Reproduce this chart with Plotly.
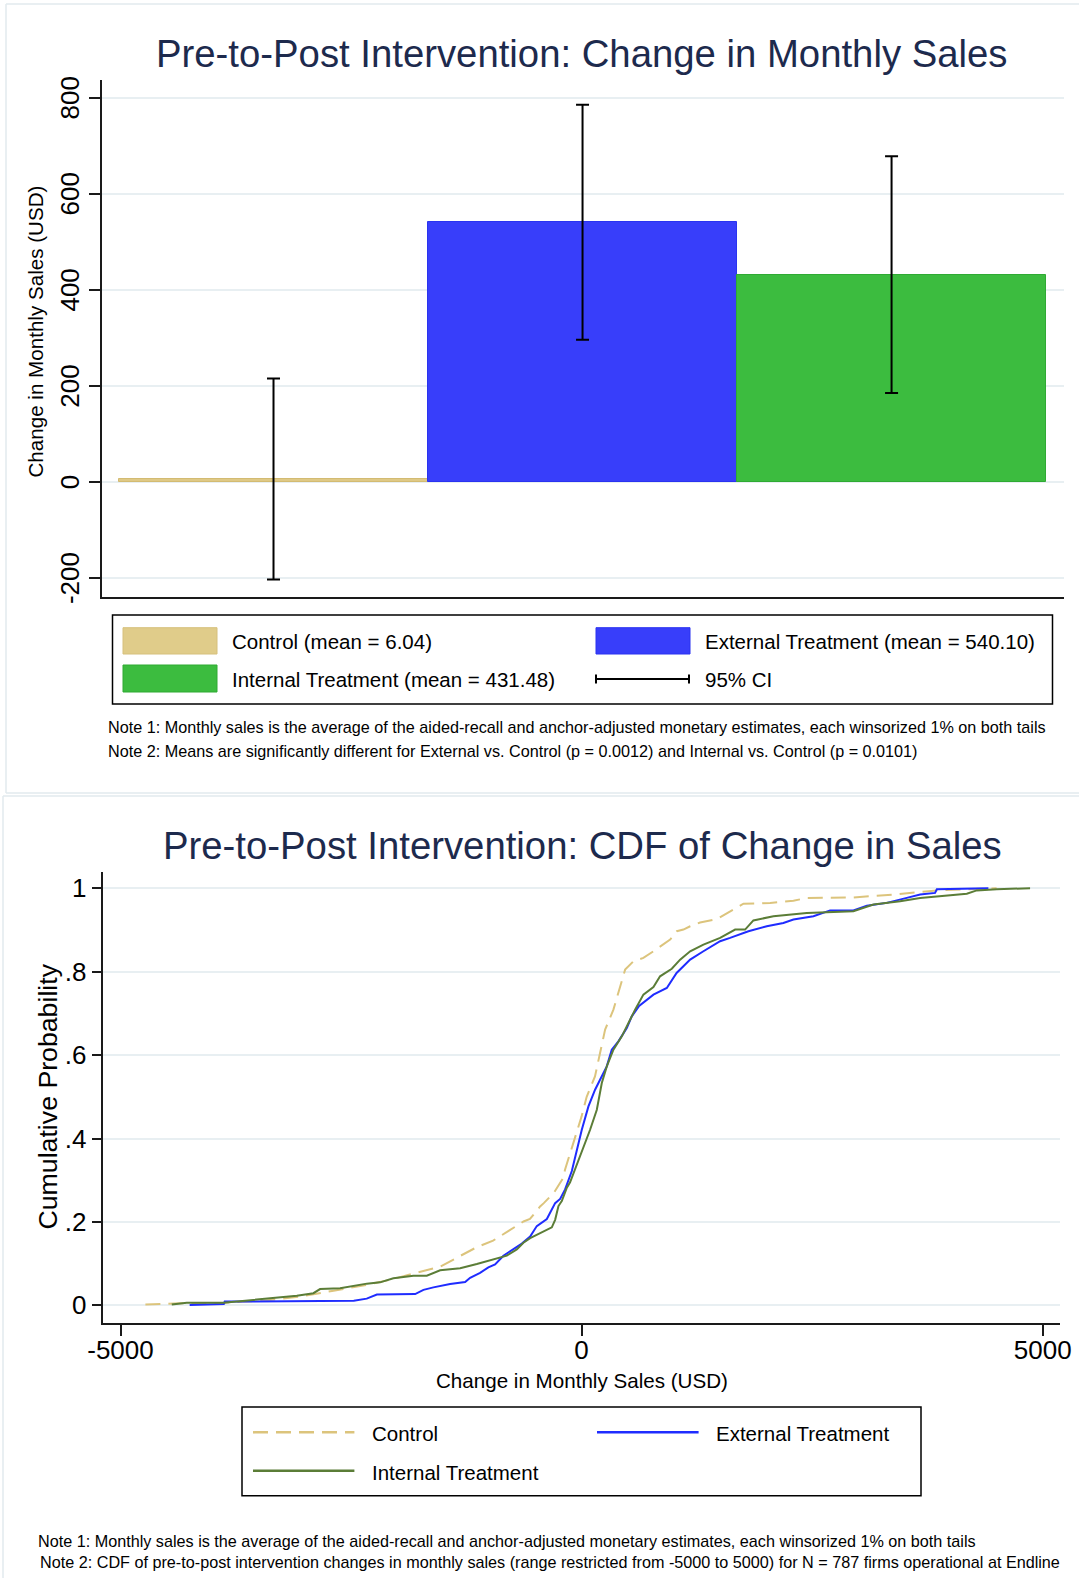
import plotly.graph_objects as go

W, H = 1079, 1578
FONT = "Liberation Sans, Arial, Helvetica, sans-serif"

# ---------------- Bar panel: mean change in monthly sales ----------------
groups = ["Control", "External Treatment", "Internal Treatment"]
means = [6.04, 540.10, 431.48]
ci_low = [-203, 296, 185]
ci_high = [215, 785, 678]
bar_yticks = [-200, 0, 200, 400, 600, 800]
bar_yticklabels = ["-200", "0", "200", "400", "600", "800"]

# ---------------- CDF panel: empirical CDFs by arm ----------------
control_x = [-4730, -4350, -3880, -3450, -3050, -2840, -2690, -2330, -2080, -1790,
             -1530, -1320, -1140, -960, -775, -630, -560, -450, -410, -300,
             -200, -180, -90, 0, 55, 145, 200, 255, 345, 417,
             472, 562, 670, 779, 887, 960, 1032, 1104, 1177, 1285,
             1466, 1610, 1755, 2044, 2297, 2442, 2947, 3381, 3598, 3852,
             4394, 4500]
control_y = [0.002, 0.005, 0.006, 0.011, 0.021, 0.030, 0.035, 0.049, 0.061, 0.078,
             0.093, 0.118, 0.139, 0.155, 0.181, 0.201, 0.207, 0.237, 0.245, 0.270,
             0.305, 0.325, 0.389, 0.453, 0.500, 0.549, 0.605, 0.661, 0.709, 0.765,
             0.805, 0.825, 0.833, 0.849, 0.865, 0.877, 0.897, 0.901, 0.909, 0.918,
             0.926, 0.945, 0.963, 0.965, 0.970, 0.977, 0.978, 0.985, 0.990, 0.995,
             0.999, 1.0]

external_x = [-4250, -3880, -3870, -3670, -2470, -2330, -2220, -1805, -1715, -1607,
              -1426, -1263, -1209, -1101, -1011, -938, -848, -740, -648, -558,
              -486, -377, -287, -233, -179, -106, -52, 2, 74, 146,
              200, 273, 327, 399, 490, 544, 620, 779, 924, 960,
              1030, 1104, 1177, 1321, 1502, 1610, 1809, 2008, 2188, 2297,
              2514, 2695, 2947, 3093, 3309, 3526, 3671, 3833, 3852, 4411]
external_y = [0.001, 0.003, 0.009, 0.009, 0.011, 0.016, 0.026, 0.027, 0.037, 0.043,
              0.051, 0.056, 0.066, 0.078, 0.091, 0.098, 0.119, 0.134, 0.148, 0.165,
              0.190, 0.207, 0.245, 0.255, 0.278, 0.322, 0.373, 0.421, 0.477, 0.517,
              0.541, 0.573, 0.613, 0.633, 0.665, 0.693, 0.717, 0.745, 0.761, 0.773,
              0.797, 0.813, 0.829, 0.849, 0.873, 0.881, 0.897, 0.909, 0.917, 0.925,
              0.933, 0.947, 0.947, 0.958, 0.965, 0.977, 0.985, 0.989, 0.998, 1.0]

internal_x = [-4444, -4281, -3884, -3667, -3486, -3269, -3088, -2908, -2836, -2619,
              -2474, -2329, -2185, -2041, -1824, -1679, -1534, -1317, -1136, -956,
              -811, -703, -631, -558, -450, -323, -287, -251, -215, -160,
              -125, -52, 20, 92, 165, 219, 273, 345, 436, 508,
              580, 670, 779, 851, 978, 1068, 1177, 1321, 1502, 1665,
              1773, 1863, 2080, 2442, 2947, 3164, 3454, 3671, 3888, 4177,
              4285, 4502, 4863]
internal_y = [0.002, 0.006, 0.006, 0.011, 0.015, 0.020, 0.023, 0.029, 0.039, 0.041,
              0.047, 0.052, 0.055, 0.065, 0.071, 0.071, 0.084, 0.089, 0.099, 0.111,
              0.119, 0.134, 0.150, 0.161, 0.173, 0.187, 0.205, 0.238, 0.250, 0.282,
              0.295, 0.336, 0.381, 0.421, 0.469, 0.533, 0.573, 0.613, 0.645, 0.677,
              0.709, 0.745, 0.763, 0.789, 0.807, 0.829, 0.849, 0.865, 0.881, 0.901,
              0.901, 0.923, 0.933, 0.941, 0.945, 0.961, 0.969, 0.977, 0.982, 0.987,
              0.995, 0.998, 1.0]
cdf_xticks = [-5000, 0, 5000]
cdf_xticklabels = ["-5000", "0", "5000"]
cdf_yticks = [0, 0.2, 0.4, 0.6, 0.8, 1]
cdf_yticklabels = ["0", ".2", ".4", ".6", ".8", "1"]

# ---------------- styling ----------------
TAN, TAN_EDGE = "#dfc986", "#d3bb72"
BLUE, BLUE_EDGE = "#383efa", "#2a33f0"
GREEN, GREEN_EDGE = "#3cbc3f", "#2faa33"
CDF_TAN, CDF_BLUE, CDF_GREEN = "#dcc47c", "#1f2cff", "#5b7d37"
TITLE_COL = "#1d2a4d"
GRID = "#e8eff2"
AXIS = "#1a1a1a"
FRAME = "#e2eaee"


def px(x):
    return x / W


def py(y):
    return 1 - y / H


fig = go.Figure()

fig.add_trace(go.Bar(
    x=groups, y=means, width=1,
    marker=dict(color=[TAN, BLUE, GREEN],
                line=dict(color=[TAN_EDGE, BLUE_EDGE, GREEN_EDGE], width=1)),
    error_y=dict(type="data", symmetric=False,
                 array=[h - m for h, m in zip(ci_high, means)],
                 arrayminus=[m - l for m, l in zip(means, ci_low)],
                 color="black", thickness=2, width=6.5),
    showlegend=False, xaxis="x", yaxis="y",
))

for xs, ys, col, dash in [(control_x, control_y, CDF_TAN, "15px,8px"),
                          (external_x, external_y, CDF_BLUE, "solid"),
                          (internal_x, internal_y, CDF_GREEN, "solid")]:
    fig.add_trace(go.Scatter(
        x=xs, y=ys, mode="lines",
        line=dict(color=col, width=2, dash=dash),
        showlegend=False, xaxis="x2", yaxis="y2",
    ))

tick_font = dict(family=FONT, size=26, color="black")

fig.update_layout(
    template="none",
    width=W, height=H, autosize=False,
    margin=dict(l=0, r=0, t=0, b=0, pad=0),
    paper_bgcolor="white", plot_bgcolor="white",
    font=dict(family=FONT, color="black"),
    bargap=0,
    xaxis=dict(domain=[px(102), px(1064)], range=[-0.555, 2.558],
               type="category", showticklabels=False, ticks="",
               showline=True, linecolor=AXIS, linewidth=1.5, automargin=False,
               showgrid=False, zeroline=False, fixedrange=True),
    yaxis=dict(domain=[py(597), py(80)], range=[-239.6, 836.6],
               tickvals=bar_yticks, ticktext=bar_yticklabels, tickangle=-90,
               tickfont=tick_font, ticks="outside", ticklen=11, tickwidth=1.5,
               tickcolor=AXIS, ticklabelstandoff=0, ticklabelshift=4,
               automargin=False,
               showline=True, linecolor=AXIS, linewidth=1.5,
               showgrid=True, gridcolor=GRID, gridwidth=1.5,
               zeroline=False, fixedrange=True),
    xaxis2=dict(domain=[px(103.3), px(1060)], range=[-5186.5, 5187.5],
                anchor="y2", tickvals=cdf_xticks, ticktext=cdf_xticklabels,
                tickfont=tick_font, ticks="outside", ticklen=11.5, tickwidth=1.5,
                tickcolor=AXIS, ticklabelstandoff=-8, automargin=False,
                showline=True, linecolor=AXIS, linewidth=1.5,
                showgrid=False, zeroline=False, fixedrange=True),
    yaxis2=dict(domain=[py(1322.7), py(871.7)], range=[-0.0417, 1.0398],
                anchor="x2", tickvals=cdf_yticks, ticktext=cdf_yticklabels,
                tickfont=tick_font, ticks="outside", ticklen=10, tickwidth=1.5,
                tickcolor=AXIS, ticklabelstandoff=0, automargin=False,
                showline=True, linecolor=AXIS, linewidth=1.5,
                showgrid=True, gridcolor=GRID, gridwidth=1.5,
                zeroline=False, fixedrange=True),
)

shapes = []
ann = []

# panel frames
for x0, y0, x1, y1 in [(6, 4, W, 4), (6, 4, 6, 793), (6, 793, W, 793),
                       (3, 796, W, 796), (3, 796, 3, H)]:
    shapes.append(dict(type="line", xref="paper", yref="paper",
                       x0=px(x0), y0=py(y0), x1=px(x1), y1=py(y1),
                       line=dict(color=FRAME, width=1.5)))


def text(x, y, s, size, anchor="left", color="black", angle=0):
    ann.append(dict(xref="paper", yref="paper", x=px(x), y=py(y), text=s,
                    showarrow=False, xanchor=anchor, yanchor="middle",
                    textangle=angle,
                    font=dict(family=FONT, size=size, color=color)))


# titles
text(582, 53, "Pre-to-Post Intervention: Change in Monthly Sales", 38.3, "center", TITLE_COL)
text(582, 845, "Pre-to-Post Intervention: CDF of Change in Sales", 38.3, "center", TITLE_COL)

# axis titles
text(35.5, 332, "Change in Monthly Sales (USD)", 20.6, "center", angle=-90)
text(47.5, 1097, "Cumulative Probability", 26.7, "center", angle=-90)
text(581.6, 1380, "Change in Monthly Sales (USD)", 20.6, "center")

# bar-panel legend
shapes.append(dict(type="rect", xref="paper", yref="paper",
                   x0=px(112.5), x1=px(1052.5), y0=py(615), y1=py(704),
                   line=dict(color="black", width=1.5), fillcolor="rgba(0,0,0,0)"))
for (x0, y0, x1, y1), fill, edge in [((123, 627.7, 217, 654), "#e0cc8a", "#d6c07c"),
                                     ((123, 665, 217, 692), GREEN, GREEN_EDGE),
                                     ((596, 627.7, 690, 654), BLUE, BLUE_EDGE)]:
    shapes.append(dict(type="rect", xref="paper", yref="paper",
                       x0=px(x0), x1=px(x1), y0=py(y0), y1=py(y1),
                       line=dict(color=edge, width=1), fillcolor=fill))
for x0, y0, x1, y1 in [(596, 679, 689, 679), (596, 674.5, 596, 683.5),
                       (689, 674.5, 689, 683.5)]:
    shapes.append(dict(type="line", xref="paper", yref="paper",
                       x0=px(x0), y0=py(y0), x1=px(x1), y1=py(y1),
                       line=dict(color="black", width=2)))
text(230, 641, f"Control (mean = {means[0]:.2f})", 20.5)
text(230, 679, f"Internal Treatment (mean = {means[2]:.2f})", 20.5)
text(703, 641, f"External Treatment (mean = {means[1]:.2f})", 20.5)
text(703, 679, "95% CI", 20.5)

# bar-panel notes
text(105.5, 727, "Note 1: Monthly sales is the average of the aided-recall and anchor-adjusted "
     "monetary estimates, each winsorized 1% on both tails", 16.2)
text(105.5, 751, "Note 2: Means are significantly different for External vs. Control "
     "(p = 0.0012) and Internal vs. Control (p = 0.0101)", 16.2)

# CDF-panel legend
shapes.append(dict(type="rect", xref="paper", yref="paper",
                   x0=px(242), x1=px(921), y0=py(1407), y1=py(1495.7),
                   line=dict(color="black", width=1.5), fillcolor="rgba(0,0,0,0)"))
for x0, y, x1, col, dash in [(253, 1432.3, 354.4, CDF_TAN, "15px,8px"),
                             (597, 1432.3, 698.6, CDF_BLUE, "solid"),
                             (253, 1470.7, 354.4, CDF_GREEN, "solid")]:
    shapes.append(dict(type="line", xref="paper", yref="paper",
                       x0=px(x0), y0=py(y), x1=px(x1), y1=py(y),
                       line=dict(color=col, width=2.5, dash=dash)))
text(369.5, 1433.5, "Control", 20.5)
text(713.5, 1433.5, "External Treatment", 20.5)
text(369.5, 1472, "Internal Treatment", 20.5)

# CDF-panel notes
text(36, 1541, "Note 1: Monthly sales is the average of the aided-recall and anchor-adjusted "
     "monetary estimates, each winsorized 1% on both tails", 16.2)
text(38, 1561.5, "Note 2: CDF of pre-to-post intervention changes in monthly sales (range "
     "restricted from -5000 to 5000) for N = 787 firms operational at Endline", 16.2)

fig.update_layout(shapes=shapes, annotations=ann)
fig.write_html("out.html")
